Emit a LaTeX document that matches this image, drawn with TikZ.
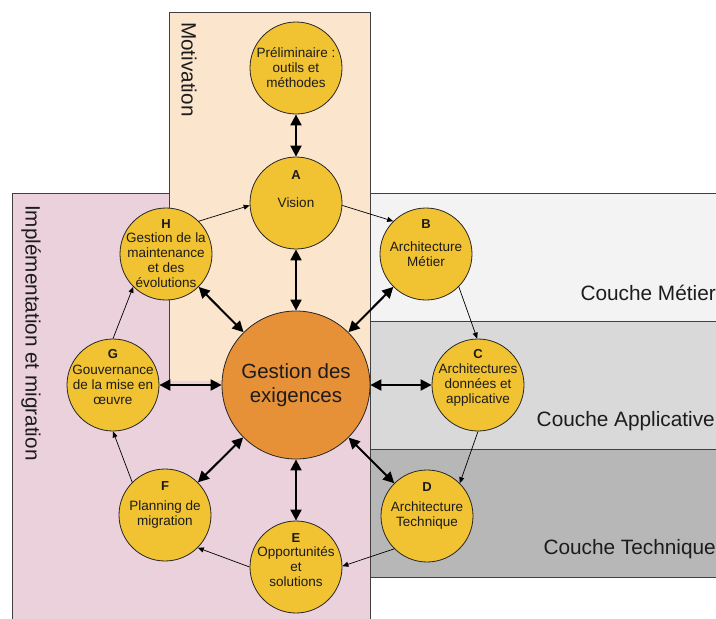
\documentclass[tikz,border=0pt]{standalone}
\usepackage{fontspec}
\setmainfont{Liberation Sans}
\usepackage{tikz}
\usetikzlibrary{shapes,arrows.meta}
\definecolor{motivfill}{HTML}{FCE5CD}
\definecolor{implfill}{HTML}{EAD1DC}
\definecolor{metierfill}{HTML}{F3F3F3}
\definecolor{applifill}{HTML}{D9D9D9}
\definecolor{techfill}{HTML}{B7B7B7}
\definecolor{phaseyellow}{HTML}{F1C232}
\definecolor{coreorange}{HTML}{E69138}
\definecolor{inkgray}{HTML}{1C1C1C}
\tikzstyle{frame} = [draw=black!75,line width=0.8pt]
\tikzstyle{phase} = [circle,minimum size=92pt,inner sep=0pt,draw=black!85,line width=0.8pt,fill=phaseyellow,text=inkgray,align=center,font=\fontsize{13.5}{15}\selectfont]
\tikzstyle{core} = [circle,minimum size=148pt,inner sep=0pt,draw=black!85,line width=0.8pt,fill=coreorange,text=inkgray,align=center,font=\fontsize{20.5}{24}\selectfont]
\tikzstyle{phasetext} = [inner sep=0pt,text=inkgray,align=center,font=\fontsize{13.5}{15}\selectfont]
\tikzstyle{letter} = [inner sep=0pt,text=inkgray,font=\fontsize{13}{15}\selectfont\bfseries]
\tikzstyle{layerlabel} = [inner sep=0pt,text=inkgray,anchor=east,font=\fontsize{20.8}{24}\selectfont]
\tikzstyle{sidelabel} = [inner sep=0pt,text=inkgray,rotate=-90,anchor=west,font=\fontsize{20.7}{24}\selectfont]
\tikzstyle{arrow} = [line width=0.7pt,->,>={Triangle[length=6pt,width=5pt]}]
\tikzstyle{biarrow} = [line width=2pt,<->,>={Triangle[length=11pt,width=11pt]}]

\begin{document}
\begin{tikzpicture}[x=1pt,y=-1pt]
\clip (0,0) rectangle (716,619);

% zones
\fill [implfill] (12,193) rectangle (370,625);
\draw [frame] (12,625) -- (12,193) -- (370,193) -- (370,625);
\fill [motivfill] (169,12) rectangle (370,381);
\draw [frame] (169,381) -- (169,12) -- (370,12) -- (370,381);
\draw [frame,fill=metierfill] (370,193) rectangle (720,321);
\draw [frame,fill=applifill] (370,321) rectangle (720,449);
\draw [frame,fill=techfill] (370,449) rectangle (720,577);

\node (motiv) [sidelabel] at (189,22) {Motivation};
\node (impl) [sidelabel] at (31,205) {Implémentation et migration};
\node (metier) [layerlabel] at (716,293) {Couche Métier};
\node (appli) [layerlabel] at (715,421) {Couche Applicative};
\node (tech) [layerlabel] at (716,549) {Couche Technique};

% cycle
\node (prelim) [phase] at (296,68) {Préliminaire :\\outils et\\méthodes};
\node (A) [phase] at (296,203) {Vision};
\node (B) [phase] at (426,254) {Architecture\\Métier};
\node (C) [phase] at (478,385) {Architectures\\données et\\applicative};
\node (D) [phase] at (427,516) {Architecture\\Technique};
\node (E) [phase] at (296,567) {Opportunités\\et\\solutions};
\node (F) [phase] at (165,515) {Planning de\\migration};
\node (G) [phase] at (113,385) {Gouvernance\\de la mise en\\\oe uvre};
\node (H) [phase] at (166,254) {};
\node (Htext) [phasetext,yshift=-6pt] at (H) {Gestion de la\\maintenance\\et des\\évolutions};
\node (gestion) [core] at (296,385) {Gestion des\\exigences};

\node (labA) [letter,yshift=28pt] at (A) {A};
\node (labB) [letter,yshift=30pt] at (B) {B};
\node (labC) [letter,yshift=31pt] at (C) {C};
\node (labD) [letter,yshift=29pt] at (D) {D};
\node (labE) [letter,yshift=29pt] at (E) {E};
\node (labF) [letter,yshift=29pt] at (F) {F};
\node (labG) [letter,yshift=31pt] at (G) {G};
\node (labH) [letter,yshift=30pt] at (H) {H};

\draw [arrow] (A.-3) -- (B.135);
\draw [arrow] (B.-45) -- (C.91);
\draw [arrow] (C.-90) -- (D.45);
\draw [arrow] (D.225) -- (E.1);
\draw [arrow] (E.180) -- (F.-45);
\draw [arrow] (F.135) -- (G.-90);
\draw [arrow] (G.90) -- (H.225);
\draw [arrow] (H.45) -- (A.183);

\draw [biarrow] (prelim) -- (A);
\draw [biarrow] (gestion) -- (A);
\draw [biarrow] (gestion) -- (B);
\draw [biarrow] (gestion) -- (C);
\draw [biarrow] (gestion) -- (D);
\draw [biarrow] (gestion) -- (E);
\draw [biarrow] (gestion) -- (F);
\draw [biarrow] (gestion) -- (G);
\draw [biarrow] (gestion) -- (H);

\end{tikzpicture}
\end{document}
